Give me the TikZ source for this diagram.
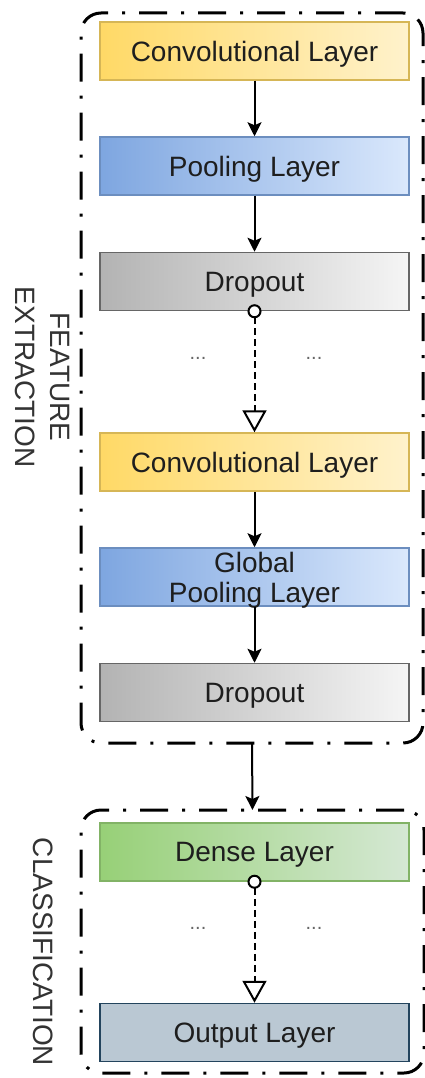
\documentclass[tikz,border=0pt]{standalone}
\usepackage{fontspec}
\setmainfont{Liberation Sans}
\usetikzlibrary{arrows.meta}
\definecolor{convl}{HTML}{FFD966}\definecolor{convr}{HTML}{FFF2CC}\definecolor{convd}{HTML}{D6B656}
\definecolor{pooll}{HTML}{7EA6E0}\definecolor{poolr}{HTML}{DAE8FC}\definecolor{poold}{HTML}{6C8EBF}
\definecolor{dropl}{HTML}{B3B3B3}\definecolor{dropr}{HTML}{F5F5F5}\definecolor{dropd}{HTML}{666666}
\definecolor{densl}{HTML}{97D077}\definecolor{densr}{HTML}{D5E8D4}\definecolor{densd}{HTML}{82B366}
\definecolor{outf}{HTML}{BAC8D3}\definecolor{outd}{HTML}{23445D}
\definecolor{txt}{HTML}{1E1E1E}

\begin{document}
\begin{tikzpicture}[x=1pt, y=-1pt,
    layer/.style={minimum width=309pt, minimum height=58pt, inner sep=0pt, line width=1.5pt,
        font=\fontsize{28}{30}\selectfont, text=txt, align=center, text depth=0pt},
    conv/.style={layer, draw=convd, left color=convl, right color=convr},
    pool/.style={layer, draw=poold, left color=pooll, right color=poolr},
    drop/.style={layer, draw=dropd, left color=dropl, right color=dropr},
    dense/.style={layer, draw=densd, left color=densl, right color=densr},
    outlayer/.style={layer, draw=outd, fill=outf},
    group/.style={draw, line width=3pt, rounded corners=20pt, inner sep=0pt, outer sep=0pt,
        dash pattern=on 28pt off 14pt on 3pt off 14pt},
    lbl/.style={rotate=-90, align=center, text=black!80, font=\fontsize{28}{35}\selectfont},
    dots/.style={text=black!60, font=\fontsize{20}{20}\selectfont},
    flow/.style={line width=2pt, -{Stealth[length=14pt, width=14pt, inset=3pt]}},
    skip/.style={line width=2pt, dash pattern=on 7pt off 4pt, shorten <=-7pt,
        {Circle[fill=white, length=14pt, width=14pt]}-{Triangle[open, length=22pt, width=24pt]}}]
    \useasboundingbox (0,0) rectangle (425,1078);
    \node[group, minimum width=342pt, minimum height=730pt] (fe) at (252,378) {};
    \node[group, minimum width=343pt, minimum height=263pt] (cl) at (252.5,941.5) {};
    \node[lbl] (lfe) at (42,377) {FEATURE\\EXTRACTION};
    \node[lbl] (lcl) at (43,952) {CLASSIFICATION};
    \node[conv] (c1) at (254.5,51) {Convolutional Layer};
    \node[pool] (p1) at (254.5,166) {Pooling Layer};
    \node[drop] (d1) at (254.5,281.5) {Dropout};
    \node[conv] (c2) at (254.5,462) {Convolutional Layer};
    \node[pool] (p2) at (254.5,577) {Global\\Pooling Layer};
    \node[drop] (d2) at (254.5,692.5) {Dropout};
    \node[dense] (ds) at (254.5,852) {Dense Layer};
    \node[outlayer] (ol) at (254.5,1032.5) {Output Layer};
    \node[dots] (e1) at (198,358) {...}; \node[dots] (e2) at (314,358) {...};
    \node[dots] (e3) at (198,928) {...}; \node[dots] (e4) at (314,928) {...};
    \draw[flow] (c1) -- (p1); \draw[flow] (p1) -- (d1);
    \draw[flow] (c2) -- (p2); \draw[flow] (p2) -- (d2);
    \draw[skip] (d1.south) -- (c2.north);
    \draw[skip] (ds.south) -- (ol.north);
    \draw[flow] (fe.south) -- (cl.north);
\end{tikzpicture}
\end{document}
